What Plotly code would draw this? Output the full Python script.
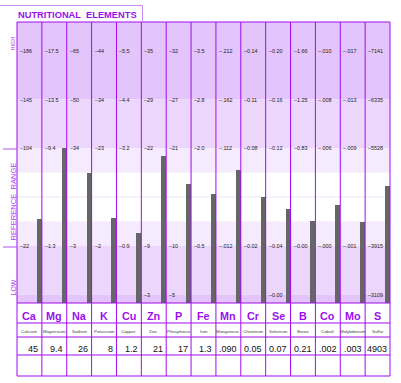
import numpy as np
import plotly.graph_objects as go

# ---------------- data ----------------
elements = ["Ca", "Mg", "Na", "K", "Cu", "Zn", "P", "Fe", "Mn", "Cr", "Se", "B", "Co", "Mo", "S"]
names = ["Calcium", "Magnesium", "Sodium", "Potassium", "Copper", "Zinc", "Phosphorus", "Iron",
         "Manganese", "Chromium", "Selenium", "Boron", "Cobalt", "Molybdenum", "Sulfur"]
value_labels = ["45", "9.4", "26", "8", "1.2", "21", "17", "1.3", ".090", "0.05", "0.07", "0.21",
                ".002", ".003", "4903"]
values = [45, 9.4, 26, 8, 1.2, 21, 17, 1.3, 0.090, 0.05, 0.07, 0.21, 0.0025, 0.003, 4903]

tick_high = ["186", "17.5", "65", "44", "5.5", "35", "32", "3.5", ".212", "0.14", "0.20", "1.66",
             ".010", ".017", "7141"]
tick_upper = ["145", "13.5", "50", "34", "4.4", "29", "27", "2.8", ".162", "0.11", "0.16", "1.25",
              ".008", ".013", "6335"]
tick_ref_hi = ["104", "9.4", "34", "23", "3.2", "22", "21", "2.0", ".112", "0.08", "0.12", "0.83",
               ".006", ".009", "5528"]
tick_ref_lo = ["22", "1.3", "3", "2", "0.9", "9", "10", "0.5", ".012", "0.02", "0.04", "0.00",
               ".000", ".001", "3915"]
tick_low = ["", "", "", "", "", "3", "5", "", "", "", "0.00", "", "", "", "3109"]

# scale levels that each tick row sits on
TICK_ROWS = [(tick_low, 0), (tick_ref_lo, 1), (tick_ref_hi, 3), (tick_upper, 4), (tick_high, 5)]

# ---------------- geometry helpers (layout only) ----------------
W, H = 401, 383
L, R, T, B = 17, 390, 22, 376           # plot box in pixels
PPL = 48.8                               # pixels per level
TOP_LEVEL = 5 + (50.7 - T) / PPL
BOT_LEVEL = TOP_LEVEL - (B - T) / PPL


def lev(px):
    return TOP_LEVEL - (px - T) / PPL


def pxx(p):
    return (p - L) / (R - L)


def pxy(p):
    return (B - p) / (B - T)


FONT = "Liberation Sans, Arial, sans-serif"
PURPLE = "#a00cf6"
LIGHTP = "#c98cf8"
TXTP = "#9a10ee"

n = len(elements)
col_px = (R - L) / n


def level_of(i, v):
    xs, ys = [], []
    for row, lv in TICK_ROWS:
        if row[i] != "":
            xs.append(float(row[i]))
            ys.append(lv)
    return float(np.interp(v, xs, ys))


levels = [level_of(i, v) for i, v in enumerate(values)]
plot_bottom = lev(303)

fig = go.Figure()

bar_w = 5 / col_px
fig.add_trace(go.Bar(
    x=[i + 1 - bar_w / 2 for i in range(n)],
    y=[lv - plot_bottom for lv in levels],
    base=plot_bottom,
    width=bar_w,
    marker=dict(color="#666666", line=dict(width=0)),
    hoverinfo="skip",
    showlegend=False,
))

shapes = []
# background bands (in level units)
bands = [
    (4, TOP_LEVEL, "#e3c4fb"),
    (3, 4, "#edd6fc"),
    (2.5, 3, "#f6eafe"),
    (1.5, 2.5, "#ffffff"),
    (1, 1.5, "#f6eafe"),
    (0, 1, "#edd6fc"),
    (plot_bottom, 0, "#e3c4fb"),
]
for y0, y1, c in bands:
    shapes.append(dict(type="rect", xref="x", yref="y", x0=0, x1=n, y0=y0, y1=y1,
                       fillcolor=c, line=dict(width=0), layer="below"))
# faint mid line
shapes.append(dict(type="line", xref="x", yref="y", x0=0, x1=n, y0=2, y1=2,
                   line=dict(color="#f1e2fc", width=1), layer="below"))

# vertical column lines
for i in range(n + 1):
    shapes.append(dict(type="line", xref="paper", yref="paper",
                       x0=pxx(L + i * col_px), x1=pxx(L + i * col_px), y0=pxy(T), y1=pxy(B),
                       line=dict(color=PURPLE, width=1), layer="above"))
# horizontal lines
for yp in [T, 303, 323, 337, 355, B]:
    shapes.append(dict(type="line", xref="paper", yref="paper",
                       x0=pxx(L), x1=pxx(R), y0=pxy(yp), y1=pxy(yp),
                       line=dict(color=PURPLE, width=1), layer="above"))
# reference range markers on the left
for yp in [149, 247]:
    shapes.append(dict(type="line", xref="paper", yref="paper",
                       x0=pxx(3), x1=pxx(L), y0=pxy(yp), y1=pxy(yp),
                       line=dict(color="#b352f2", width=1), layer="above"))
# title box
shapes.append(dict(type="line", xref="paper", yref="paper", x0=pxx(0), x1=pxx(142.5),
                   y0=pxy(5.5), y1=pxy(5.5), line=dict(color=LIGHTP, width=1)))
shapes.append(dict(type="line", xref="paper", yref="paper", x0=pxx(142.5), x1=pxx(142.5),
                   y0=pxy(5.5), y1=pxy(T), line=dict(color=LIGHTP, width=1)))

ann = []
# title
ann.append(dict(text="<b>NUTRITIONAL  ELEMENTS</b>", xref="paper", yref="paper",
                x=pxx(15.5), y=pxy(14.5), xanchor="left", yanchor="middle", showarrow=False,
                font=dict(family=FONT, size=9.3, color=TXTP)))
# left labels
for txt, yp, sz in [("HIGH", 44, 5.5), ("REFERENCE  RANGE", 202, 7.6), ("LOW", 288, 7)]:
    ann.append(dict(text=txt, xref="paper", yref="paper", x=pxx(12.5), y=pxy(yp),
                    xanchor="center", yanchor="middle", textangle=-90, showarrow=False,
                    font=dict(family=FONT, size=sz, color="#b03cf0")))

# tick labels per column
for row, lv in TICK_ROWS:
    for i in range(n):
        if row[i] == "":
            continue
        ann.append(dict(text="\u2013" + row[i], xref="x", yref="y",
                        x=i + 1.0 / col_px, y=lv, xanchor="left", yanchor="middle",
                        showarrow=False, font=dict(family=FONT, size=5.4, color="#222222")))

# table rows
for i in range(n):
    ann.append(dict(text="<b>" + elements[i] + "</b>", xref="x", yref="paper",
                    x=i + 0.5, y=pxy(315.5), xanchor="center", yanchor="middle", showarrow=False,
                    font=dict(family=FONT, size=10.8, color=TXTP)))
    ann.append(dict(text=names[i], xref="x", yref="paper",
                    x=i + 0.5, y=pxy(331), xanchor="center", yanchor="middle", showarrow=False,
                    font=dict(family=FONT, size=4.4, color="#444444")))
    ann.append(dict(text=value_labels[i], xref="x", yref="paper",
                    x=i + 1 - 1.5 / col_px, y=pxy(349), xanchor="right", yanchor="middle",
                    showarrow=False, font=dict(family=FONT, size=9, color="#111111")))

fig.update_layout(
    width=W, height=H,
    margin=dict(l=L, r=W - R, t=T, b=H - B, pad=0),
    paper_bgcolor="white", plot_bgcolor="white",
    xaxis=dict(range=[0, n], visible=False, fixedrange=True),
    yaxis=dict(range=[BOT_LEVEL, TOP_LEVEL], visible=False, fixedrange=True),
    shapes=shapes, annotations=ann, bargap=0, showlegend=False,
)

fig.write_html("out.html", config={"displayModeBar": False, "staticPlot": True},
               post_script="document.body.style.margin='0';")
